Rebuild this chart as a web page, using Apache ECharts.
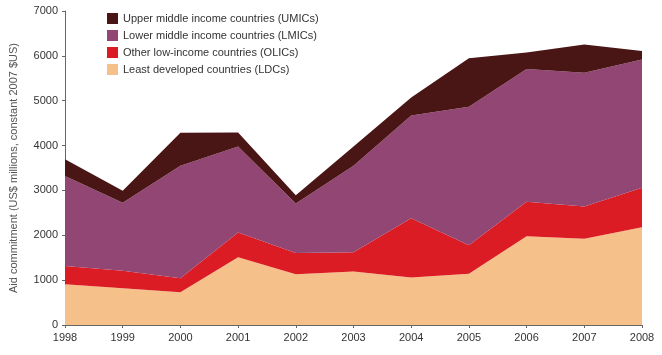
<!DOCTYPE html>
<html><head><meta charset="utf-8">
<script src="https://cdn.jsdelivr.net/npm/echarts@6/dist/echarts.min.js"></script>
<style>html,body{margin:0;padding:0;background:#fff}#c{width:662px;height:355px}</style>
</head><body><div id="c"></div>
<script>
const years = ['1998','1999','2000','2001','2002','2003','2004','2005','2006','2007','2008'];
const ldc  = [910, 820, 730, 1510, 1130, 1190, 1060, 1140, 1980, 1920, 2180];
const olic = [405, 390, 310, 550, 475, 430, 1320, 640, 770, 720, 880];
const lmic = [2005, 1515, 2510, 1920, 1105, 1930, 2290, 3085, 2955, 2985, 2860];
const umic = [375, 270, 735, 310, 185, 430, 400, 1080, 370, 630, 190];
const names = ['Upper middle income countries (UMICs)','Lower middle income countries (LMICs)','Other low-income countries (OLICs)','Least developed countries (LDCs)'];
const yTicks = [0,1000,2000,3000,4000,5000,6000,7000];
const font = 'Liberation Sans, Arial, sans-serif';
const chart = echarts.init(document.getElementById('c'));
function s(name, data, color){
  return {name, type:'line', stack:'t', data, symbol:'none', lineStyle:{width:0}, areaStyle:{color, opacity:1}, itemStyle:{color}};
}
chart.setOption({
  animation:false,
  textStyle:{fontFamily:font},
  legend:{orient:'vertical', left:102, top:8, itemWidth:11, itemHeight:11, itemGap:6, icon:'rect', itemStyle:{borderWidth:0},
    data:names, textStyle:{fontSize:11, color:'#333', fontFamily:font}},
  grid:{left:63, right:20, top:11, bottom:30},
  xAxis:{type:'category', data:years, boundaryGap:false,
    axisLine:{lineStyle:{color:'#666'}}, axisTick:{show:true, length:3, lineStyle:{color:'#666'}},
    axisLabel:{color:'#333', fontSize:11, margin:7, fontFamily:font}},
  yAxis:{type:'value', min:yTicks[0], max:yTicks[yTicks.length-1], interval:1000,
    name:'Aid commitment (US$ millions, constant 2007 $US)', nameLocation:'middle', nameGap:46,
    nameTextStyle:{color:'#555', fontSize:11, fontFamily:font},
    axisLine:{show:true, lineStyle:{color:'#666'}}, axisTick:{show:true, length:3, lineStyle:{color:'#666'}},
    splitLine:{show:false}, axisLabel:{color:'#333', fontSize:11, margin:7, fontFamily:font, formatter:v=>String(v)}},
  series:[
    s(names[3], ldc, '#f6c08a'),
    s(names[2], olic, '#dc1c24'),
    s(names[1], lmic, '#924673'),
    s(names[0], umic, '#4a1515')
  ]
});
</script></body></html>
